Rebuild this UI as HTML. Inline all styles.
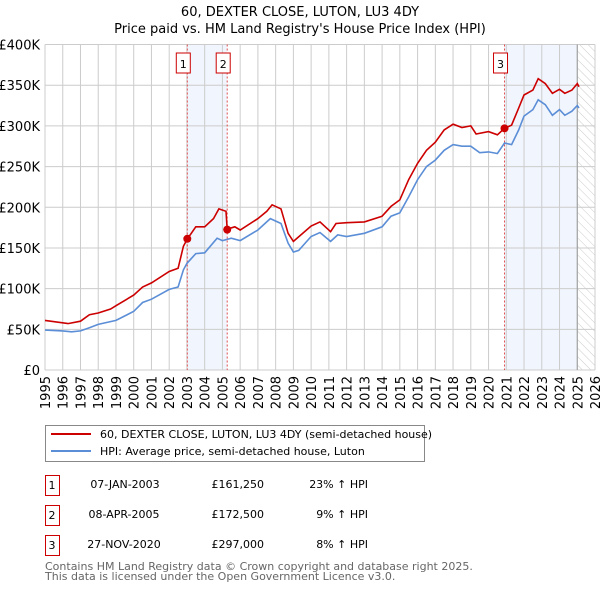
<!DOCTYPE html>
<html><head><meta charset="utf-8"><style>
body{margin:0;background:#fff;font-family:"Liberation Sans","DejaVu Sans",sans-serif;}
svg text{font-family:"DejaVu Sans","Liberation Sans",sans-serif;}
</style></head><body>
<svg id="c" width="600" height="590" viewBox="0 0 600 590" xmlns="http://www.w3.org/2000/svg">
<defs><pattern id="hatch" width="6" height="6" patternUnits="userSpaceOnUse" patternTransform="rotate(-45)"><line x1="0" y1="0" x2="0" y2="6" stroke="#ccc" stroke-width="1"/></pattern></defs>
<text x="300" y="16" text-anchor="middle" font-size="13" fill="#000">60, DEXTER CLOSE, LUTON, LU3 4DY</text>
<text x="300" y="33" text-anchor="middle" font-size="13" fill="#000">Price paid vs. HM Land Registry's House Price Index (HPI)</text>
<g id="plot"></g>
<g>
<rect x="45.5" y="425.5" width="379" height="36" fill="#fff" stroke="#888" stroke-width="1"/>
<line x1="51" y1="434" x2="91" y2="434" stroke="#cc0000" stroke-width="2"/>
<text x="100" y="438" font-size="11">60, DEXTER CLOSE, LUTON, LU3 4DY (semi-detached house)</text>
<line x1="51" y1="451" x2="91" y2="451" stroke="#5b8ed6" stroke-width="2"/>
<text x="100" y="455" font-size="11">HPI: Average price, semi-detached house, Luton</text>
</g>
<g font-size="11">
<rect x="45.5" y="475.5" width="14" height="20" fill="#fff" stroke="#cc0000"/><text x="52" y="489" text-anchor="middle">1</text>
<text x="125" y="488" text-anchor="middle">07-JAN-2003</text><text x="264" y="488" text-anchor="end">£161,250</text><text x="368" y="488" text-anchor="end">23% ↑ HPI</text>
<rect x="45.5" y="505.5" width="14" height="20" fill="#fff" stroke="#cc0000"/><text x="52" y="519" text-anchor="middle">2</text>
<text x="124" y="518" text-anchor="middle">08-APR-2005</text><text x="264" y="518" text-anchor="end">£172,500</text><text x="368" y="518" text-anchor="end">9% ↑ HPI</text>
<rect x="45.5" y="535.5" width="14" height="20" fill="#fff" stroke="#cc0000"/><text x="52" y="549" text-anchor="middle">3</text>
<text x="124" y="548" text-anchor="middle">27-NOV-2020</text><text x="264" y="548" text-anchor="end">£297,000</text><text x="368" y="548" text-anchor="end">8% ↑ HPI</text>
</g>
<text x="45" y="570" font-size="11" fill="#666">Contains HM Land Registry data © Crown copyright and database right 2025.</text>
<text x="45" y="580" font-size="11" fill="#666">This data is licensed under the Open Government Licence v3.0.</text>
</svg>
<script>
const hpiYears=[1995,1996,1996.5,1997,1997.5,1998,1999,2000,2000.5,2001,2002,2002.5,2002.8,2003,2003.5,2004,2004.7,2005,2005.5,2006,2007,2007.7,2008.3,2008.7,2009,2009.3,2010,2010.5,2011.1,2011.5,2012,2013,2014,2014.5,2015,2015.5,2016,2016.5,2017,2017.5,2018,2018.5,2019,2019.5,2020,2020.5,2020.9,2021.3,2021.7,2022,2022.5,2022.8,2023.2,2023.6,2024,2024.3,2024.7,2025,2025.1];
const hpiValues=[49,48,47,48,52,56,61,72,83,87,99,102,123,131,143,144,162,159,162,159,172,186,180,156,145,147,164,169,158,166,164,168,176,189,193,213,234,250,258,270,277,275,275,267,268,266,279,277,295,312,320,332,326,313,320,313,318,325,322];
const priceYears=[1995,1996.3,1997,1997.5,1998,1998.7,1999,2000,2000.5,2001,2002,2002.5,2002.8,2003.02,2003.5,2004,2004.5,2004.8,2005.2,2005.27,2005.7,2006,2007,2007.5,2007.8,2008.3,2008.7,2009,2010,2010.5,2011.1,2011.4,2012,2013,2014,2014.5,2015,2015.5,2016,2016.5,2017,2017.5,2018,2018.5,2019,2019.3,2020,2020.5,2020.9,2021.3,2021.7,2022,2022.5,2022.8,2023.2,2023.6,2024,2024.3,2024.7,2025,2025.1];
const priceValues=[61,57,60,68,70,75,79,92,102,107,121,125,152,161,176,176,186,198,195,173,176,172,186,195,203,198,168,158,177,182,170,180,181,182,189,201,209,234,254,270,280,295,302,298,300,290,293,289,297,301,322,338,344,358,352,340,345,340,344,352,348];
const saleLabels=["1","2","3"];
const saleYears=[2003.02,2005.27,2020.9];
const saleValues=[161.25,172.5,297];
const yTicks=[0,50,100,150,200,250,300,350,400];
const yTickLabels=["£0","£50K","£100K","£150K","£200K","£250K","£300K","£350K","£400K"];
const xTicks=[1995,1996,1997,1998,1999,2000,2001,2002,2003,2004,2005,2006,2007,2008,2009,2010,2011,2012,2013,2014,2015,2016,2017,2018,2019,2020,2021,2022,2023,2024,2025,2026];

const NS="http://www.w3.org/2000/svg";
const X0=45,X1=595,Y0=370,Y1=44.5;
const xs=y=>X0+(y-1995)/(2026-1995)*(X1-X0);
const ys=v=>Y0-v/400*(Y0-Y1);
const g=document.getElementById('plot');
function mk(t,a){const e=document.createElementNS(NS,t);for(const k in a)e.setAttribute(k,a[k]);g.appendChild(e);return e;}
let r=mk('rect',{x:xs(saleYears[0]),y:Y1,width:xs(saleYears[1])-xs(saleYears[0]),height:Y0-Y1,fill:'#eef3fc',opacity:0.8});


r=mk('rect',{x:xs(saleYears[2]),y:Y1,width:xs(2025)-xs(saleYears[2]),height:Y0-Y1,fill:'#eef3fc',opacity:0.8});


r=mk('rect',{x:xs(2025),y:Y1,width:X1-xs(2025),height:Y0-Y1,fill:'url(#hatch)'});


xTicks.forEach(t=>{const l=mk('line',{x1:xs(t),x2:xs(t),y1:Y1,y2:Y0,stroke:'#ccc','stroke-width':1});


const tx=mk('text',{x:0,y:0,'font-size':13,'text-anchor':'end',transform:`translate(${xs(t)+5},${Y0+6}) rotate(-90)`});tx.textContent=t;

});
yTicks.forEach((t,i)=>{const l=mk('line',{x1:X0,x2:X1,y1:ys(t),y2:ys(t),stroke:'#ccc','stroke-width':1});


const tx=mk('text',{x:40,y:ys(t)+5,'font-size':13,'text-anchor':'end'});tx.textContent=yTickLabels[i];

});
let nl=mk('line',{x1:xs(2025),x2:xs(2025),y1:Y1,y2:Y0,stroke:'#999','stroke-width':1});


saleYears.forEach((s,i)=>{const l=mk('line',{x1:xs(s),x2:xs(s),y1:Y1,y2:Y0,stroke:'#e05050','stroke-width':1,'stroke-dasharray':'2,2'});


const b=mk('rect',{x:xs(s)-11,y:53,width:14,height:20,fill:'#fff',stroke:'#cc0000'});


const t=mk('text',{x:xs(s)-4,y:68,'font-size':11,'text-anchor':'middle'});t.textContent=saleLabels[i];

});
const path=(xa,va)=>xa.map((y,i)=>(i?'L':'M')+xs(y).toFixed(1)+','+ys(va[i]).toFixed(1)).join('');
let p=mk('path',{d:path(hpiYears,hpiValues),fill:'none',stroke:'#5b8ed6','stroke-width':1.6});


p=mk('path',{d:path(priceYears,priceValues),fill:'none',stroke:'#cc0000','stroke-width':1.6});


saleYears.forEach((s,i)=>{const c=mk('circle',{cx:xs(s),cy:ys(saleValues[i]),r:4,fill:'#cc0000'});

});
</script>
</body></html>
